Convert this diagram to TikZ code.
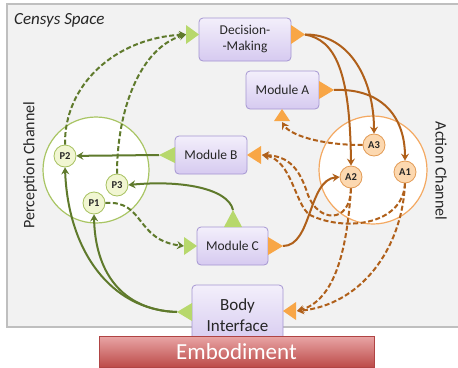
\documentclass[tikz,border=0pt]{standalone}
\usepackage{fontspec}
\setmainfont{Carlito}
\usetikzlibrary{arrows.meta}
\definecolor{panelfill}{HTML}{F2F2F2}
\definecolor{panelline}{HTML}{BFBFBF}
\definecolor{boxtop}{HTML}{F3EFFB}
\definecolor{boxbot}{HTML}{D6CAF0}
\definecolor{boxline}{HTML}{A596D2}
\definecolor{gtri}{HTML}{B7D86C}
\definecolor{otri}{HTML}{F8A646}
\definecolor{gcol}{HTML}{5F7A2C}
\definecolor{ocol}{HTML}{B0601A}
\definecolor{pcirc}{HTML}{A9C564}
\definecolor{acirc}{HTML}{F4A962}
\definecolor{pfill}{HTML}{F1F6D2}
\definecolor{pline}{HTML}{A7C160}
\definecolor{afill}{HTML}{FCD8B0}
\definecolor{aline}{HTML}{E39B55}
\definecolor{embtop}{HTML}{E8A4A4}
\definecolor{embbot}{HTML}{BC4A48}
\definecolor{embline}{HTML}{B04444}
\begin{document}
\begin{tikzpicture}[x=1pt,y=-1pt,
  box/.style={draw=boxline, line width=0.8pt, rounded corners=4pt, top color=boxtop, bottom color=boxbot, inner sep=0pt, align=center, text=black!85, font=\fontsize{13.5}{16}\selectfont},
  pnode/.style={circle, draw=pline, line width=0.8pt, fill=pfill, minimum size=22pt, inner sep=0pt, font=\fontsize{10.5}{12}\selectfont\bfseries, text=black!85},
  anode/.style={circle, draw=aline, line width=0.8pt, fill=afill, minimum size=22pt, inner sep=0pt, font=\fontsize{10.5}{12}\selectfont\bfseries, text=black!85},
  gline/.style={draw=gcol, line width=2pt, -{Stealth[length=7pt,width=8pt,inset=2.5pt]}},
  oline/.style={draw=ocol, line width=2pt, -{Stealth[length=7pt,width=8pt,inset=2.5pt]}},
  dsh/.style={dash pattern=on 5pt off 2.5pt},
  lbl/.style={font=\fontsize{16}{18}\selectfont, text=black!85, inner sep=0pt}
]
\clip (0,0) rectangle (458,367);
\fill[white] (0,0) rectangle (458,367);
% panel
\draw[panelline, line width=1.5pt, fill=panelfill] (7,4) rectangle (470,327);
\node[anchor=west, inner sep=0pt, font=\fontsize{17}{19}\selectfont\itshape, text=black!85] (title) at (14,20) {Censys Space};
% channels
\draw[pcirc, line width=1.2pt, fill=white] (96,170) circle (53);
\draw[acirc, line width=1.2pt, fill=white] (373,170) circle (54);
\node[lbl, rotate=90] (pch) at (30,165) {Perception Channel};
\node[lbl, rotate=-90] (ach) at (441,171) {Action Channel};
% boxes
\node[box, minimum width=92pt, minimum height=43pt] (dm) at (245,39.5) {Decision-\\-Making};
\node[box, minimum width=73pt, minimum height=38pt] (ma) at (282.5,90) {Module A};
\node[box, minimum width=72pt, minimum height=38pt] (mb) at (211,155) {Module B};
\node[box, minimum width=71pt, minimum height=38pt] (mc) at (232.5,246) {Module C};
\node[box, minimum width=91pt, minimum height=60pt, font=\fontsize{17}{21}\selectfont] (bi) at (237.5,315) {Body\\Interface};
% triangles (ports)
\fill[gtri] (186,25) -- (186,44) -- (199,34.5) -- cycle;
\fill[otri] (291,25) -- (291,44) -- (305,34.5) -- cycle;
\fill[otri] (319,81) -- (319,99) -- (334,90) -- cycle;
\fill[otri] (274,121) -- (290,121) -- (282,109) -- cycle;
\fill[gtri] (175,147) -- (175,163) -- (159,155) -- cycle;
\fill[otri] (261,146) -- (261,164) -- (247,155) -- cycle;
\fill[gtri] (224,227) -- (242,227) -- (233,210) -- cycle;
\fill[gtri] (184,237) -- (184,255) -- (197,246) -- cycle;
\fill[otri] (268,237) -- (268,255) -- (283,246) -- cycle;
\fill[gtri] (192,303) -- (192,321) -- (177,312) -- cycle;
\fill[otri] (296,302) -- (296,320) -- (283,311) -- cycle;
\coordinate (dmin) at (186,34.5);
\coordinate (dmout) at (305,34.5);
\coordinate (maout) at (334,90);
\coordinate (main) at (282,122);
\coordinate (mbout) at (159,155);
\coordinate (mbin) at (262,155);
\coordinate (mctop) at (233,210);
\coordinate (mcin) at (184,246);
\coordinate (mcout) at (283,246);
\coordinate (biout) at (177,312);
\coordinate (biin) at (297,311);
% P and A nodes
\node[pnode] (p2) at (65,156) {P2};
\node[pnode] (p3) at (117,185) {P3};
\node[pnode] (p1) at (94,203) {P1};
\node[anode] (a3) at (374,145) {A3};
\node[anode] (a2) at (351,177) {A2};
\node[anode] (a1) at (405,172) {A1};
% green connectors
\draw[gline, dsh] (p2.north) .. controls (64,85) and (115,38) .. (dmin);
\draw[gline, dsh] (p3.north) .. controls (117,110) and (140,48) .. (dmin);
\draw[gline] (mbout) -- (p2);
\draw[gline] (mctop) .. controls (228,188) and (180,180) .. (p3.east);
\draw[gline, dsh] (p1.east) .. controls (145,200) and (135,240) .. (mcin);
\draw[gline] (biout) .. controls (110,310) and (68,250) .. (p2.south);
\draw[gline] (biout) .. controls (120,310) and (95,270) .. (p1.south);
% orange connectors
\draw[oline] (dmout) .. controls (350,34) and (374,80) .. (a3.north);
\draw[oline] (dmout) .. controls (335,40) and (350,70) .. (a2.north);
\draw[oline] (maout) .. controls (380,88) and (405,115) .. (a1.north);
\draw[oline] (mcout) .. controls (312,246) and (308,180) .. (a2.west);
\draw[oline, dsh] (a3.west) .. controls (320,145) and (290,135) .. (main);
\draw[oline, dsh] (a2.south) .. controls (350,225) and (318,222) .. (308,195) .. controls (300,170) and (290,156) .. (mbin);
\draw[oline, dsh] (a1.south) .. controls (403,225) and (345,232) .. (310,215) .. controls (295,205) and (292,160) .. (mbin);
\draw[oline, dsh] (a2.south) .. controls (347,250) and (335,300) .. (biin);
\draw[oline, dsh] (a1.south) .. controls (402,250) and (360,305) .. (biin);
% embodiment
\node[draw=embline, line width=0.6pt, top color=embtop, bottom color=embbot, minimum width=275pt, minimum height=31pt, inner sep=0pt, text=white, font=\fontsize{23}{25}\selectfont] (emb) at (236.5,352) {Embodiment};
\end{tikzpicture}
\end{document}
